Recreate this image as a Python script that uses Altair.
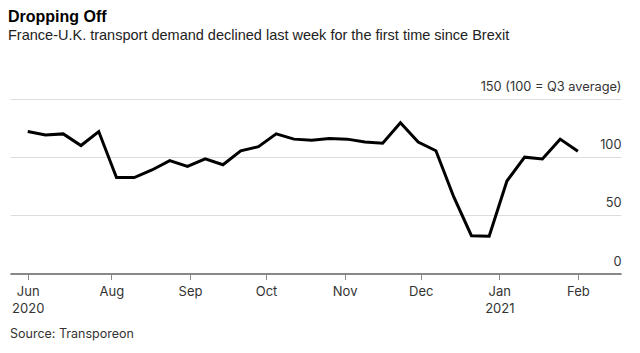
import altair as alt
import pandas as pd

# ---- data ----
weeks = [
    "2020-06-29", "2020-07-06", "2020-07-13", "2020-07-20", "2020-07-27",
    "2020-08-03", "2020-08-10", "2020-08-17", "2020-08-24", "2020-08-31",
    "2020-09-07", "2020-09-14", "2020-09-21", "2020-09-28", "2020-10-05",
    "2020-10-12", "2020-10-19", "2020-10-26", "2020-11-02", "2020-11-09",
    "2020-11-16", "2020-11-23", "2020-11-30", "2020-12-07", "2020-12-14",
    "2020-12-21", "2020-12-28", "2021-01-04", "2021-01-11", "2021-01-18",
    "2021-01-25", "2021-02-01",
]
demand = [
    122, 119, 120, 110, 122, 82.5, 82.5, 89, 97, 92,
    98.5, 93.5, 105.5, 109, 120, 115.5, 114.5, 116, 115.5, 113,
    112, 129.5, 113, 105.5, 66, 32.5, 32, 79.5, 100, 98.5,
    115.5, 105,
]
y_ticks = [0, 50, 100, 150]
top_tick_label = "150 (100 = Q3 average)"
x_tick_dates = [(2020, 6, 29), (2020, 8, 1), (2020, 9, 1), (2020, 10, 1),
                (2020, 11, 1), (2020, 12, 1), (2021, 1, 1), (2021, 2, 1)]
year_labels = {"Jun": "2020", "Jan": "2021"}
title = "Dropping Off"
subtitle = "France-U.K. transport demand declined last week for the first time since Brexit"
source = "Source: Transporeon"

df = pd.DataFrame({"week": weeks, "demand": demand})

FONT = "Liberation Sans"
LFONT = "Inter"
W, H = 611, 174.5

label_expr = " : ".join(
    [f"datum.label == '{m}' ? ['{m}', '{y}']" for m, y in year_labels.items()]
) + " : datum.label"

x_enc = alt.X(
    "week:T",
    scale=alt.Scale(
        type="utc",
        domain=[alt.DateTime(year=2020, month=6, date=22, utc=True),
                alt.DateTime(year=2021, month=2, date=18, utc=True)],
    ),
    axis=alt.Axis(
        title=None,
        values=[alt.DateTime(year=y, month=m, date=d, utc=True) for y, m, d in x_tick_dates],
        format="%b",
        labelExpr=label_expr,
        grid=False,
        domainColor="#888888",
        domainWidth=2,
        tickColor="#888888",
        tickSize=6,
        tickWidth=1,
        labelFont=LFONT,
        labelFontSize=13,
        labelColor="#333333",
        labelPadding=6,
        labelLineHeight=17,
        labelBaseline="top",
        labelFlush=False,
    ),
)

y_enc = alt.Y(
    "demand:Q",
    scale=alt.Scale(domain=[0, 150], nice=False, zero=True),
    axis=alt.Axis(
        title=None,
        orient="right",
        values=y_ticks,
        labelExpr=f"datum.value == 150 ? '{top_tick_label}' : datum.label",
        domain=False,
        ticks=False,
        grid=True,
        gridColor="#dddddd",
        gridWidth=1,
        labelAlign="right",
        labelBaseline="alphabetic",
        labelPadding=0,
        labelOffset=-8.5,
        labelFont=LFONT,
        labelFontSize=12.8,
        labelColor="#333333",
    ),
)

line = alt.Chart(df).mark_line(color="black", strokeWidth=3).encode(x=x_enc, y=y_enc)

src = alt.Chart(alt.Data(values=[{"t": source}])).mark_text(
    align="left", baseline="alphabetic", font=LFONT, fontSize=12.5, color="#333333"
).encode(x=alt.value(0), y=alt.value(H + 64), text="t:N")

chart = alt.layer(line, src).properties(
    width=W,
    height=H,
    title=alt.Title(
        title,
        subtitle=subtitle,
        anchor="start",
        font=FONT,
        fontSize=16,
        fontWeight="bold",
        color="black",
        subtitleFont=FONT,
        subtitleFontSize=14.5,
        subtitleColor="#222222",
        subtitlePadding=4,
        offset=38,
        dx=-2,
    ),
    autosize=alt.AutoSizeParams(type="none"),
    padding={"left": 10, "top": 99, "right": 19, "bottom": 80},
).configure(background="white", view=alt.ViewConfig(stroke=None))

chart.save("out.html", embed_options={"renderer": "svg", "actions": False})
